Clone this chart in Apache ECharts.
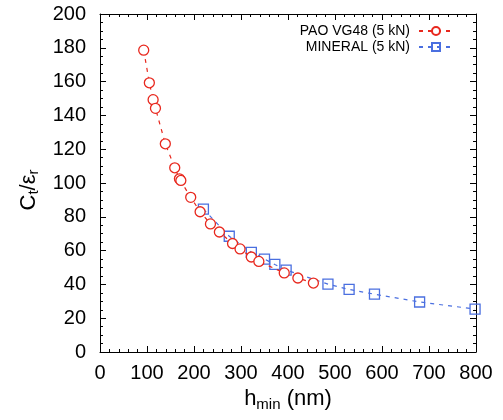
<!DOCTYPE html>
<html>
<head>
<meta charset="utf-8">
<script src="https://cdn.jsdelivr.net/npm/echarts@6/dist/echarts.min.js"></script>
<style>html,body{margin:0;padding:0;background:#fff}#c{width:503px;height:420px}</style>
</head>
<body>
<div id="c"></div>
<script>
const paoX = [93, 105, 113, 118, 139, 159, 169, 172, 193, 213, 235, 254, 282, 298, 322, 338, 392, 421, 454];
const paoY = [178.6, 159.3, 149.3, 144.2, 123.2, 109, 102.5, 101.5, 91.5, 83, 75.8, 71, 64.2, 61, 56.2, 53.6, 46.8, 43.8, 40.8];
const minX = [220, 275, 322, 350, 372, 396, 485, 530, 584, 680, 798];
const minY = [84.5, 68.5, 59, 55, 51.8, 48.5, 40.2, 37, 34.2, 29.6, 25.4];
const seriesNames = ['PAO VG48 (5 kN)', 'MINERAL (5 kN)'];

const FONT = 'Liberation Sans';
const RED = '#e8281e';
const BLUE = '#4a6fe0';

const chart = echarts.init(document.getElementById('c'), null, {renderer: 'canvas'});

function pairs(xs, ys) { return xs.map((x, i) => [x, ys[i]]); }

const axisCommon = {
  axisLine: {show: true, onZero: false, lineStyle: {color: '#000', width: 1}},
  axisTick: {show: true, inside: true, length: 6, lineStyle: {color: '#000'}},
  minorTick: {show: true, splitNumber: 5, length: 3, lineStyle: {color: '#000'}},
  splitLine: {show: false}
};

const richName = {
  a: {fontFamily: FONT, fontSize: 22, color: '#000', lineHeight: 24, verticalAlign: 'top'},
  b: {fontFamily: FONT, fontSize: 15, color: '#000', lineHeight: 15, verticalAlign: 'bottom'}
};

const option = {
  animation: false,
  textStyle: {fontFamily: FONT},
  grid: {left: 100, right: 27, top: 14, bottom: 68, containLabel: false},
  legend: {
    orient: 'vertical',
    right: 53,
    top: 20,
    align: 'right',
    itemWidth: 34,
    itemHeight: 10,
    itemGap: 2,
    textStyle: {fontFamily: FONT, fontSize: 14, color: '#000', padding: [0, 4, 0, 0]},
    data: seriesNames
  },
  xAxis: [
    Object.assign({}, axisCommon, {
      type: 'value', min: 0, max: 800, interval: 100, position: 'bottom',
      axisLabel: {fontFamily: FONT, fontSize: 20, color: '#000', margin: 11},
      name: '{a|h}{b|min}{a| (nm)}',
      nameLocation: 'middle',
      nameGap: 36,
      nameTextStyle: {rich: richName}
    }),
    Object.assign({}, axisCommon, {
      type: 'value', min: 0, max: 800, interval: 100, position: 'top',
      axisLabel: {show: false}
    })
  ],
  yAxis: [
    Object.assign({}, axisCommon, {
      type: 'value', min: 0, max: 200, interval: 20, position: 'left',
      minorTick: {show: true, splitNumber: 4, length: 3, lineStyle: {color: '#000'}},
      axisLabel: {fontFamily: FONT, fontSize: 20, color: '#000', margin: 14},
      name: '{a|C}{b|t}{a|/ε}{b|r}',
      nameLocation: 'middle',
      nameGap: 58,
      nameTextStyle: {rich: richName, padding: [0, 14, 0, 0]}
    }),
    Object.assign({}, axisCommon, {
      type: 'value', min: 0, max: 200, interval: 20, position: 'right',
      minorTick: {show: true, splitNumber: 4, length: 3, lineStyle: {color: '#000'}},
      axisLabel: {show: false}
    })
  ],
  series: [
    {
      name: seriesNames[0], type: 'line', xAxisIndex: 0, yAxisIndex: 0,
      data: pairs(paoX, paoY),
      symbol: 'circle', symbolSize: 10, showSymbol: true,
      itemStyle: {color: '#fff', borderColor: RED, borderWidth: 1.3},
      lineStyle: {color: RED, width: 1.2, type: [4, 5]},
      color: RED,
      z: 3
    },
    {
      name: seriesNames[1], type: 'line', xAxisIndex: 0, yAxisIndex: 0,
      data: pairs(minX, minY),
      symbol: 'rect', symbolSize: 10, showSymbol: true,
      itemStyle: {color: 'rgba(255,255,255,0)', borderColor: BLUE, borderWidth: 1.3},
      lineStyle: {color: BLUE, width: 1.2, type: [4, 5]},
      color: BLUE,
      z: 2
    }
  ]
};
option.legend.right = 44;
option.legend.top = 19;
chart.setOption(option);
</script>
</body>
</html>
